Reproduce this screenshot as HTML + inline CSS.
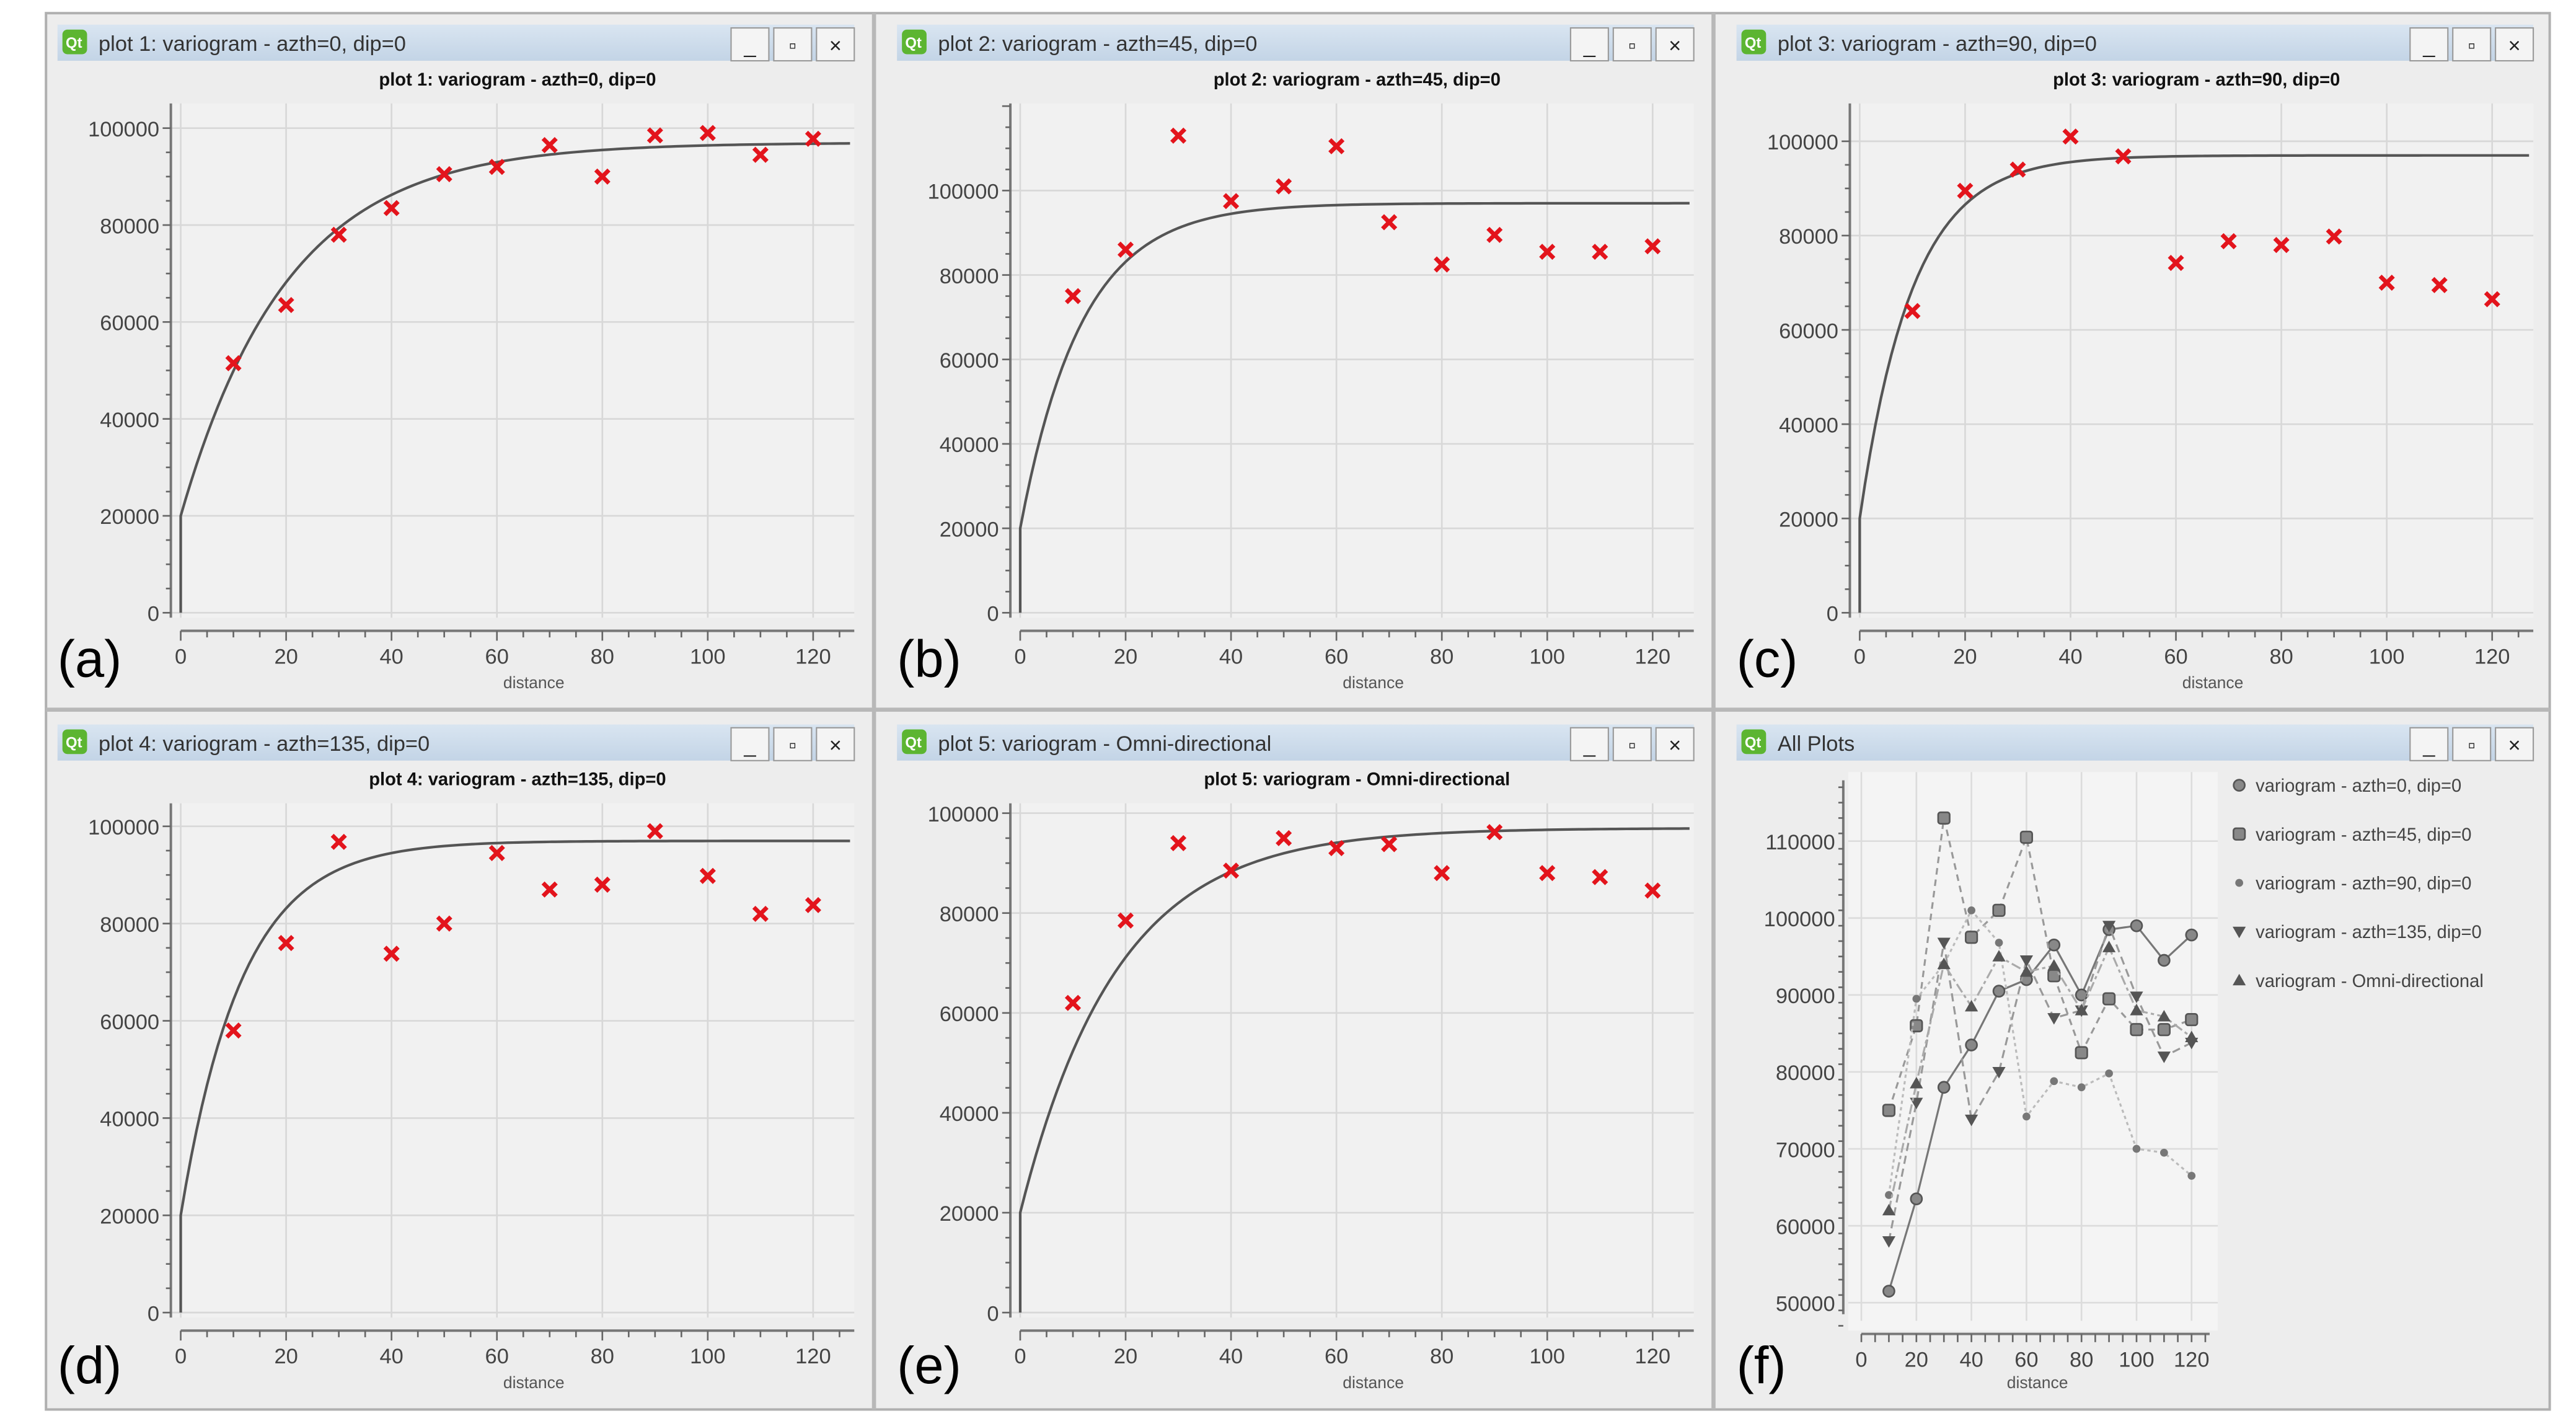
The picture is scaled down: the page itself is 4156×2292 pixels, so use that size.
<!DOCTYPE html>
<html><head><meta charset="utf-8">
<style>
html,body{margin:0;padding:0;background:#fff;}
svg{display:block;font-family:"Liberation Sans",sans-serif;}
</style></head>
<body>
<svg id="fig" width="4156" height="2292" viewBox="0 0 1568 865" preserveAspectRatio="none" xmlns="http://www.w3.org/2000/svg">
<rect x="0" y="0" width="1568" height="865" fill="#ffffff"/>
<rect x="28" y="8" width="1524" height="850" fill="#ededed" stroke="#b0b0b0" stroke-width="1.5"/>
<line x1="532" y1="8" x2="532" y2="858" stroke="#b8b8b8" stroke-width="2.5"/>
<line x1="1043" y1="8" x2="1043" y2="858" stroke="#b8b8b8" stroke-width="2.5"/>
<line x1="28" y1="432" x2="1552" y2="432" stroke="#b8b8b8" stroke-width="2.5"/>
<defs>
<linearGradient id="tb" x1="0" y1="0" x2="0" y2="1"><stop offset="0" stop-color="#d9e5f1"/><stop offset="1" stop-color="#c3d4e6"/></linearGradient>
</defs>
<g id="root"></g>
</svg>
<script>
// ---- data ----
const distances = [10,20,30,40,50,60,70,80,90,100,110,120];
const seriesA = [51500,63500,78000,83500,90500,92000,96500,90000,98500,99000,94500,97800];
const seriesB = [75000,86000,113000,97500,101000,110500,92500,82500,89500,85500,85500,86800];
const seriesC = [64000,89500,94000,101000,96800,74200,78800,78000,79800,70000,69500,66500];
const seriesD = [58000,76000,96800,73800,80000,94500,87000,88000,99000,89800,82000,83800];
const seriesE = [62000,78500,94000,88500,95000,93000,93800,88000,96200,88000,87200,84500];
const modelNugget = [20000,20000,20000,20000,20000];
const modelSill = [97000,97000,97000,97000,97000];
const modelRange = [61,35,30,35,55];
const xTicks = [0,20,40,60,80,100,120];
const yTicksMain = [0,20000,40000,60000,80000,100000];
const yTicksAll = [50000,60000,70000,80000,90000,100000,110000];
const windowTitles = ["plot 1:  variogram - azth=0, dip=0","plot 2:  variogram - azth=45, dip=0","plot 3:  variogram - azth=90, dip=0","plot 4:  variogram - azth=135, dip=0","plot 5:  variogram - Omni-directional","All Plots"];
const legendLabels = ["variogram - azth=0, dip=0","variogram - azth=45, dip=0","variogram - azth=90, dip=0","variogram - azth=135, dip=0","variogram - Omni-directional"];
const panelLetters = ["(a)","(b)","(c)","(d)","(e)","(f)"];

const NS="http://www.w3.org/2000/svg";
const root=document.getElementById('root');
function mk(tag,attrs,parent,text){const e=document.createElementNS(NS,tag);for(const k in attrs)e.setAttribute(k,attrs[k]);if(text!==undefined)e.textContent=text;(parent||root).appendChild(e);return e;}

// panel geometry (layout, not data)
const layout=[
 {px:30,py:12,x0:110,yZero:373,y100:78},
 {px:541,py:12,x0:621,yZero:373,y100:116},
 {px:1052,py:12,x0:1132,yZero:373,y100:86},
 {px:30,py:438,x0:110,yZero:799,y100:503},
 {px:541,py:438,x0:621,yZero:799,y100:495},
 {px:1052,py:438}
];
const allSeries=[seriesA,seriesB,seriesC,seriesD,seriesE];

function windowChrome(i){
 const L=layout[i];
 const g=mk('g',{});
 
 
 mk('rect',{x:L.px+5,y:L.py+3,width:485,height:22,fill:'url(#tb)'},g);
 mk('rect',{x:L.px+8,y:L.py+6,width:15,height:15,rx:3,fill:'#5cb531'},g);
 mk('text',{x:L.px+10,y:L.py+17,'font-size':9,fill:'#fff','font-weight':'bold'},g,'Qt');
 mk('text',{x:L.px+30,y:L.py+19,'font-size':13,fill:'#333'},g,windowTitles[i]);
 const names=['minimize-button','maximize-button','close-button'];
 const glyph=['_','▫','×'];
 for(let k=0;k<3;k++){
  const bx=L.px+415+k*26;
  const b=mk('g',{},g);
  
  
  mk('rect',{x:bx,y:L.py+5,width:23,height:20,fill:'#f4f4f4',stroke:'#9a9a9a','stroke-width':0.8},b);
  mk('text',{x:bx+11.5,y:L.py+20,'font-size':13,'text-anchor':'middle',fill:'#222'},b,glyph[k]);
 }
 const lt=mk('text',{x:L.px+5,y:L.py+(i<3?400:404),'font-size':32,fill:'#000'},null,panelLetters[i]);
 
 
}

function variogramPanel(i){
 const L=layout[i];
 const xs=3.208;
 const X=v=>L.x0+v*xs;
 const Y=v=>L.yZero-(v/100000)*(L.yZero-L.y100);
 const top=L.py+51, bottom=L.yZero+3, left=L.x0-6, right=L.px+490;
 const g=mk('g',{});
 
 
 const t=mk('text',{x:L.px+285,y:L.py+40,'font-size':11,'font-weight':'bold','text-anchor':'middle',fill:'#111'},g,windowTitles[i]);
 
 
 mk('rect',{x:left,y:top,width:right-left,height:bottom-top,fill:'#f1f1f1'},g);
 // grid
 xTicks.forEach(v=>mk('line',{x1:X(v),x2:X(v),y1:top,y2:bottom,stroke:'#d8d8d8','stroke-width':1},g));
 yTicksMain.forEach(v=>mk('line',{x1:left,x2:right,y1:Y(v),y2:Y(v),stroke:'#d8d8d8','stroke-width':1},g));
 // axes
 mk('line',{x1:left,x2:left,y1:top,y2:bottom,stroke:'#777','stroke-width':1.5},g);
 mk('line',{x1:L.x0,x2:right,y1:bottom+8,y2:bottom+8,stroke:'#777','stroke-width':1.5},g);
 for(let v=0;v<=125;v+=5){const big=v%20===0;mk('line',{x1:X(v),x2:X(v),y1:bottom+8,y2:bottom+(big?14:12),stroke:'#666','stroke-width':1},g);}
 for(let v=0;v<=(i===1?120000:100000);v+=5000){const y=Y(v);if(y<top)break;mk('line',{x1:left-(v%20000===0?5:3),x2:left,y1:y,y2:y,stroke:'#666','stroke-width':1},g);}
 xTicks.forEach(v=>{const tx=mk('text',{x:X(v),y:bottom+28,'font-size':13,'text-anchor':'middle',fill:'#444'},g,String(v));
  });
 yTicksMain.forEach(v=>{const ty=mk('text',{x:left-7,y:Y(v)+5,'font-size':13,'text-anchor':'end',fill:'#444'},g,String(v));
  });
 const xl=mk('text',{x:X(67),y:bottom+43,'font-size':10,'text-anchor':'middle',fill:'#555'},g,'distance');
 
 // model curve
 const nug=modelNugget[i],sill=modelSill[i],rng=modelRange[i];
 let d='M'+X(0)+','+Y(0)+' L'+X(0)+','+Y(nug);
 for(let v=0;v<=127;v+=1){d+=' L'+X(v).toFixed(2)+','+Y(sill-(sill-nug)*Math.exp(-3*v/rng)).toFixed(2);}
 const c=mk('path',{d:d,fill:'none',stroke:'#555','stroke-width':1.6},g);
 
 // points
 const s=allSeries[i];
 distances.forEach((dv,k)=>{
  const cx=X(dv),cy=Y(s[k]),r=4;
  const p=mk('path',{d:`M${cx-r},${cy-r}L${cx+r},${cy+r}M${cx-r},${cy+r}L${cx+r},${cy-r}`,stroke:'#e3141c','stroke-width':2.6,fill:'none'},g);
  
  
 });
}

function allPlotsPanel(){
 const i=5,L=layout[5];
 const x0=1133,xs=201/120;
 const X=v=>x0+v*xs;
 const Y=v=>793-(v-50000)/60000*281;
 const top=470,bottom=810,left=1125,right=1350;
 const g=mk('g',{});
 
 
 mk('rect',{x:left,y:top,width:right-left,height:bottom-top,fill:'#f4f4f4'},g);
 xTicks.forEach(v=>mk('line',{x1:X(v),x2:X(v),y1:top,y2:bottom-6,stroke:'#dcdcdc'},g));
 yTicksAll.forEach(v=>mk('line',{x1:left,x2:right,y1:Y(v),y2:Y(v),stroke:'#dcdcdc'},g));
 mk('line',{x1:left-3,x2:left-3,y1:top+5,y2:bottom-10,stroke:'#777','stroke-width':1.5},g);
 mk('line',{x1:X(0),x2:right-5,y1:bottom+2,y2:bottom+2,stroke:'#777','stroke-width':1.5},g);
 for(let v=0;v<=125;v+=5)mk('line',{x1:X(v),x2:X(v),y1:bottom+2,y2:bottom+7,stroke:'#666'},g);
 for(let v=47000;v<=117000;v+=2000){const y=Y(v);mk('line',{x1:left-6,x2:left-3,y1:y,y2:y,stroke:'#666'},g);}
 xTicks.forEach(v=>{const t=mk('text',{x:X(v),y:bottom+22,'font-size':13,'text-anchor':'middle',fill:'#444'},g,String(v));
  });
 yTicksAll.forEach(v=>{const t=mk('text',{x:left-8,y:Y(v)+5,'font-size':13,'text-anchor':'end',fill:'#444'},g,String(v));
  });
 const xl=mk('text',{x:X(64),y:bottom+35,'font-size':10,'text-anchor':'middle',fill:'#555'},g,'distance');
 
 const styles=[
  {stroke:'#777',dash:'',m:'circle'},
  {stroke:'#999',dash:'4,3',m:'square'},
  {stroke:'#bbb',dash:'2,2',m:'dot'},
  {stroke:'#999',dash:'5,3',m:'down'},
  {stroke:'#aaa',dash:'6,2,2,2',m:'up'}];
 function marker(par,m,cx,cy){
  let e;
  if(m==='circle')e=mk('circle',{cx:cx,cy:cy,r:3.4,fill:'#888',stroke:'#555','stroke-width':1},par);
  else if(m==='square')e=mk('rect',{x:cx-3.5,y:cy-3.5,width:7,height:7,rx:1.5,fill:'#888',stroke:'#555','stroke-width':1},par);
  else if(m==='dot')e=mk('circle',{cx:cx,cy:cy,r:2.4,fill:'#777'},par);
  else if(m==='down')e=mk('path',{d:`M${cx-4},${cy-3}L${cx+4},${cy-3}L${cx},${cy+4}Z`,fill:'#555'},par);
  else e=mk('path',{d:`M${cx-4},${cy+3}L${cx+4},${cy+3}L${cx},${cy-4}Z`,fill:'#555'},par);
  return e;
 }
 allSeries.forEach((s,si)=>{
  const sg=mk('g',{},g);
  
  
  const pts=distances.map((dv,k)=>X(dv).toFixed(2)+','+Y(s[k]).toFixed(2)).join(' ');
  mk('polyline',{points:pts,fill:'none',stroke:styles[si].stroke,'stroke-width':1.2,'stroke-dasharray':styles[si].dash},sg);
  distances.forEach((dv,k)=>{const e=marker(sg,styles[si].m,X(dv),Y(s[k]));
   });
 });
 legendLabels.forEach((lab,li)=>{
  const lg=mk('g',{},g);
  
  
  const y=478+li*29.7;
  marker(lg,styles[li].m,1363,y);
  mk('text',{x:1373,y:y+4,'font-size':11,fill:'#444'},lg,lab);
 });
}

for(let i=0;i<6;i++)windowChrome(i);
for(let i=0;i<5;i++)variogramPanel(i);
allPlotsPanel();
</script>
</body></html>
